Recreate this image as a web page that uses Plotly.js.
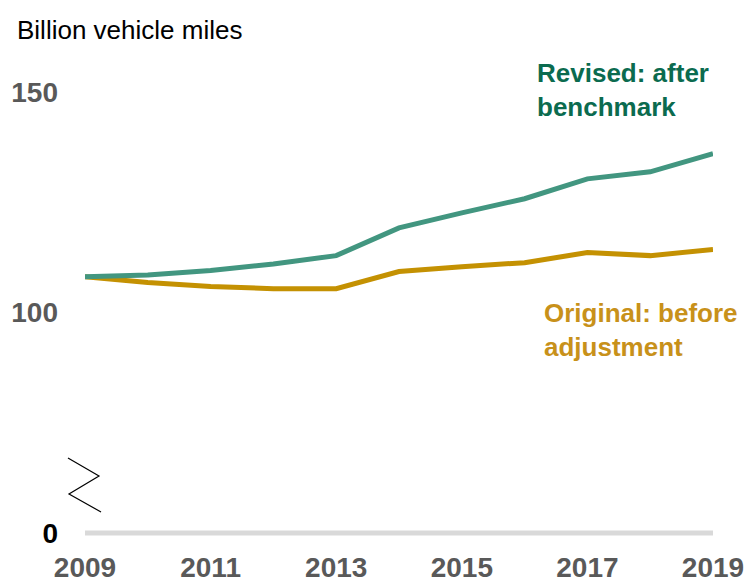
<!DOCTYPE html>
<html>
<head>
<meta charset="utf-8">
<script src="https://cdn.plot.ly/plotly-3.0.1.min.js"></script>
<style>
html,body{margin:0;padding:0;background:#fff;}
#chart{width:745px;height:583px;}
</style>
</head>
<body>
<div id="chart"></div>
<script>
// Data
const years = [2009, 2010, 2011, 2012, 2013, 2014, 2015, 2016, 2017, 2018, 2019];
const revised = [108.1, 108.5, 109.5, 111.0, 112.9, 119.2, 122.6, 125.8, 130.3, 131.9, 136.0];
const original = [108.1, 106.8, 105.9, 105.4, 105.4, 109.3, 110.4, 111.3, 113.6, 112.9, 114.3];
const xTicks = [2009, 2011, 2013, 2015, 2017, 2019];
// Axis is broken: the "0" label sits at display position 50
const yTickVals = [50, 100, 150];
const yTickText = ['<span style="color:#000000">0</span>', '100', '150'];
const baseValue = 50;

const FONT = '"Liberation Sans", Arial, sans-serif';
const GREEN_LINE = '#429680';
const GREEN_TEXT = '#0b6b4f';
const GOLD_LINE = '#c49102';
const GOLD_TEXT = '#c8911a';

const traces = [
  {x: years, y: original, type: 'scatter', mode: 'lines', name: 'Original',
   line: {color: GOLD_LINE, width: 5}, cliponaxis: false, hoverinfo: 'skip'},
  {x: years, y: revised, type: 'scatter', mode: 'lines', name: 'Revised',
   line: {color: GREEN_LINE, width: 5}, cliponaxis: false, hoverinfo: 'skip'}
];

const layout = {
  width: 745, height: 583,
  margin: {l: 85, r: 32, t: 60, b: 45},
  paper_bgcolor: '#ffffff', plot_bgcolor: '#ffffff',
  showlegend: false,
  font: {family: FONT},
  title: {
    text: 'Billion vehicle miles',
    xref: 'container', yref: 'container',
    x: 17/745, xanchor: 'left',
    y: 1 - 30/583, yanchor: 'middle',
    font: {family: FONT, size: 26, color: '#000000'}
  },
  xaxis: {
    range: [2009, 2019],
    tickvals: xTicks,
    ticktext: xTicks.map(String),
    showgrid: false, zeroline: false, showline: false,
    ticks: '',
    ticklabelstandoff: 10,
    ticklabeloverflow: 'allow',
    tickfont: {family: FONT, size: 28, color: '#595959', weight: 'bold'},
    fixedrange: true
  },
  yaxis: {
    range: [48.866, 157.26],
    tickvals: yTickVals,
    ticktext: yTickText,
    showgrid: false, zeroline: false, showline: false,
    ticks: '',
    ticklabelstandoff: 26,
    tickfont: {family: FONT, size: 28, color: '#595959', weight: 'bold'},
    fixedrange: true
  },
  shapes: [
    {type: 'line', xref: 'x', yref: 'y', x0: years[0], x1: years[years.length - 1],
     y0: baseValue, y1: baseValue, layer: 'below',
     line: {color: '#d9d9d9', width: 5}},
    {type: 'path', xref: 'paper', yref: 'paper',
     path: 'M -0.0271 0.1674 L 0.0223 0.1297 L -0.0255 0.0921 L 0.0255 0.0544',
     line: {color: '#000000', width: 1.2}}
  ],
  annotations: [
    {xref: 'paper', yref: 'paper', x: 0.716, y: 0.937, xanchor: 'left', yanchor: 'middle',
     align: 'left', showarrow: false,
     text: 'Revised: after<br>benchmark',
     font: {family: FONT, size: 26, color: GREEN_TEXT, weight: 'bold'}},
    {xref: 'paper', yref: 'paper', x: 0.728, y: 0.435, xanchor: 'left', yanchor: 'middle',
     align: 'left', showarrow: false,
     text: 'Original: before<br>adjustment',
     font: {family: FONT, size: 26, color: GOLD_TEXT, weight: 'bold'}}
  ]
};

Plotly.newPlot('chart', traces, layout, {displayModeBar: false, staticPlot: true});
</script>
</body>
</html>
